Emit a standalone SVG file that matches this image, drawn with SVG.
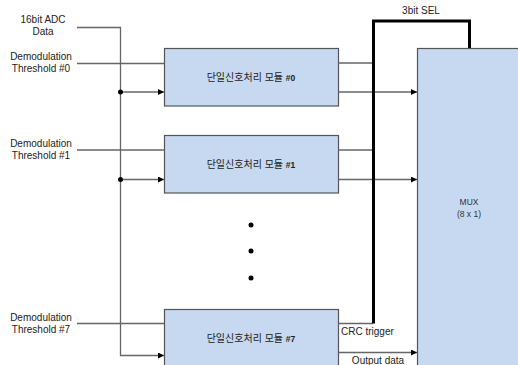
<svg xmlns="http://www.w3.org/2000/svg" width="518" height="365" viewBox="0 0 518 365">
<style>
.box{fill:#c6d9f0;stroke:#555;stroke-width:1.2}
.ln{fill:none;stroke:#666;stroke-width:1.3}
.th{fill:none;stroke:#000;stroke-width:3}
.t{font-family:"Liberation Sans",Arial,sans-serif;font-size:10px;fill:#222;text-anchor:middle}
.k{font-family:"Liberation Sans","Noto Sans CJK KR",sans-serif;font-size:10px;fill:#222;text-anchor:middle}
.n{font-size:8.5px;font-weight:bold}
.m{font-family:"Liberation Sans",Arial,sans-serif;font-size:8.5px;fill:#333;text-anchor:middle}
</style>
<defs>
<marker id="ar" markerWidth="6" markerHeight="6" refX="6" refY="3" orient="auto" markerUnits="userSpaceOnUse">
<path d="M0,0 L6,3 L0,6 Z" fill="#000"/>
</marker>
</defs>
<g id="labels">
<text class="t" x="43" y="23">16bit ADC</text>
<text class="t" x="43" y="35">Data</text>
<text class="t" x="41" y="60">Demodulation</text>
<text class="t" x="41" y="72">Threshold #0</text>
<text class="t" x="41" y="147">Demodulation</text>
<text class="t" x="41" y="159">Threshold #1</text>
<text class="t" x="41" y="321">Demodulation</text>
<text class="t" x="41" y="333">Threshold #7</text>
<text class="t" x="421" y="14">3bit SEL</text>
</g>
<g id="mod0">
<rect class="box" x="164.5" y="48.5" width="174" height="57.5"/>
<text class="k" x="251" y="81">단일신호처리 모듈 <tspan class="n">#0</tspan></text>
</g>
<g id="mod1">
<rect class="box" x="164.5" y="135.5" width="174" height="57.5"/>
<text class="k" x="251" y="168">단일신호처리 모듈 <tspan class="n">#1</tspan></text>
</g>
<g id="mod7">
<rect class="box" x="164.5" y="309.5" width="174" height="70"/>
<text class="k" x="251" y="342">단일신호처리 모듈 <tspan class="n">#7</tspan></text>
</g>
<g id="mux">
<rect class="box" x="417.5" y="48.5" width="110" height="330"/>
<text class="m" x="469" y="205">MUX</text>
<text class="m" x="469" y="217">(8 x 1)</text>
</g>
<g id="ellipsis">
<circle cx="251" cy="225" r="2.5" fill="#000"/>
<circle cx="251" cy="251" r="2.5" fill="#000"/>
<circle cx="251" cy="278" r="2.5" fill="#000"/>
</g>
<g id="connectors">
<path class="ln" d="M77,27.5 H120.5 V355.5 H164" marker-end="url(#ar)"/>
<path class="ln" d="M77,63.5 H164.5"/>
<path class="ln" d="M77,150 H164.5"/>
<path class="ln" d="M77,323.5 H164.5"/>
<path class="ln" d="M120.5,92 H164" marker-end="url(#ar)"/>
<path class="ln" d="M120.5,179.5 H164" marker-end="url(#ar)"/>
<circle cx="120.5" cy="92" r="2.5" fill="#000"/>
<circle cx="120.5" cy="179.5" r="2.5" fill="#000"/>
<path class="ln" d="M338.5,63 H373"/>
<path class="ln" d="M338.5,150 H373"/>
<path class="ln" d="M338.5,323.5 H373"/>
<path class="ln" d="M338.5,92 H417" marker-end="url(#ar)"/>
<path class="ln" d="M338.5,179.5 H417" marker-end="url(#ar)"/>
<path class="ln" d="M338.5,352.5 H417" marker-end="url(#ar)"/>
<path class="th" d="M373.5,323.5 V21 H469.5 V48"/>
<text x="341" y="335" style="font-family:'Liberation Sans',Arial,sans-serif;font-size:10px;fill:#222">CRC trigger</text>
<text class="t" x="378" y="364">Output data</text>
</g>
</svg>
